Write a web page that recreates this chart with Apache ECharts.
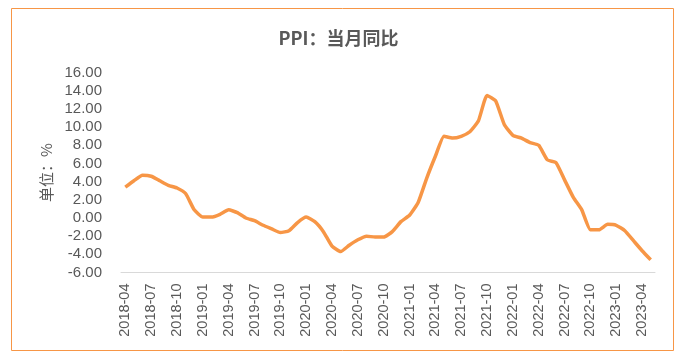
<!DOCTYPE html>
<html>
<head>
	<meta charset="utf-8">
	<title>PPI：当月同比</title>
	<script src="https://cdn.jsdelivr.net/npm/echarts@6/dist/echarts.min.js"></script>
	<style>
		html, body { margin: 0; padding: 0; background: #fff; }
		#echarts { width: 677px; height: 353px; }
	</style>
</head>
<body>
	<div id="echarts"></div>
	<script>
	// 月份 2018-04 ~ 2023-05
	var months = [
		'2018-04','2018-05','2018-06','2018-07','2018-08','2018-09','2018-10','2018-11','2018-12',
		'2019-01','2019-02','2019-03','2019-04','2019-05','2019-06','2019-07','2019-08','2019-09','2019-10','2019-11','2019-12',
		'2020-01','2020-02','2020-03','2020-04','2020-05','2020-06','2020-07','2020-08','2020-09','2020-10','2020-11','2020-12',
		'2021-01','2021-02','2021-03','2021-04','2021-05','2021-06','2021-07','2021-08','2021-09','2021-10','2021-11','2021-12',
		'2022-01','2022-02','2022-03','2022-04','2022-05','2022-06','2022-07','2022-08','2022-09','2022-10','2022-11','2022-12',
		'2023-01','2023-02','2023-03','2023-04','2023-05'
	];
	// PPI 当月同比 (%)
	var ppiYoy = [
		3.4, 4.1, 4.7, 4.6, 4.1, 3.6, 3.3, 2.7, 0.9,
		0.1, 0.1, 0.4, 0.9, 0.6, 0.0, -0.3, -0.8, -1.2, -1.6, -1.4, -0.5,
		0.1, -0.4, -1.5, -3.1, -3.7, -3.0, -2.4, -2.0, -2.1, -2.1, -1.5, -0.4,
		0.3, 1.7, 4.4, 6.8, 9.0, 8.8, 9.0, 9.5, 10.7, 13.5, 12.9, 10.3,
		9.1, 8.8, 8.3, 8.0, 6.4, 6.1, 4.2, 2.3, 0.9, -1.3, -1.3, -0.7,
		-0.8, -1.4, -2.5, -3.6, -4.6
	];
	var yMin = -6, yMax = 16, yStep = 2;

	var myChart = echarts.init(document.getElementById('echarts'));
	var option = {
		animation: false,
		title: {
			text: 'PPI：当月同比',
			left: 'center',
			top: 24,
			textStyle: {
				fontFamily: 'Noto Sans CJK SC',
				fontSize: 18,
				fontWeight: 'bold',
				color: '#595959'
			}
		},
		graphic: [{
			type: 'rect',
			shape: { x: 11.5, y: 8.5, width: 662, height: 342 },
			style: { fill: 'none', stroke: '#F79646', lineWidth: 1 },
			silent: true
		}],
		grid: {
			left: 121,
			right: 22,
			top: 72.7,
			bottom: 80.5
		},
		xAxis: {
			type: 'category',
			data: months,
			boundaryGap: true,
			axisLine: { onZero: false, lineStyle: { color: '#d9d9d9', width: 1 } },
			axisTick: { interval: 2, length: 5, lineStyle: { color: '#d9d9d9' } },
			axisLabel: {
				interval: 2,
				rotate: 90,
				margin: 11,
				color: '#595959',
				fontFamily: 'Liberation Sans',
				fontSize: 14.5
			},
			splitLine: { show: false }
		},
		yAxis: {
			type: 'value',
			min: yMin,
			max: yMax,
			interval: yStep,
			name: '单位：%',
			nameLocation: 'middle',
			nameGap: 62,
			nameTextStyle: {
				fontFamily: 'Noto Sans CJK SC',
				fontSize: 15,
				color: '#595959'
			},
			axisLine: { show: false },
			axisTick: { show: false },
			splitLine: { show: false },
			axisLabel: {
				margin: 19,
				color: '#595959',
				fontFamily: 'Liberation Sans',
				fontSize: 15,
				formatter: function (v) { return v.toFixed(2); }
			}
		},
		series: [{
			name: 'PPI当月同比',
			type: 'line',
			data: ppiYoy,
			symbol: 'none',
			smooth: 0.15,
			lineStyle: { color: '#F79646', width: 3.5 },
			itemStyle: { color: '#F79646' }
		}]
	};
	myChart.setOption(option);
	</script>
</body>
</html>
